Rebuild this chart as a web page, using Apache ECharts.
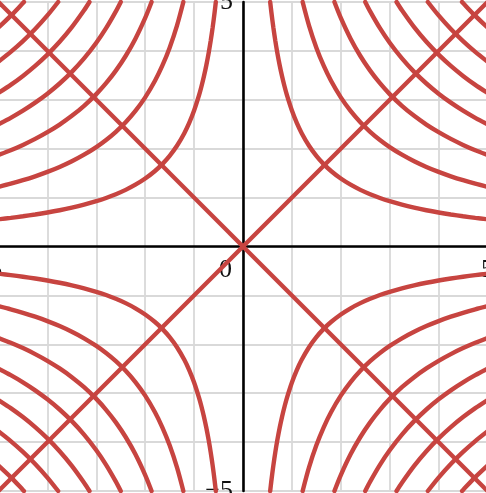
<!DOCTYPE html>
<html><head><meta charset="utf-8">
<script src="https://cdn.jsdelivr.net/npm/echarts@6/dist/echarts.min.js"></script>
<style>html,body{margin:0;padding:0;background:#fff;overflow:hidden}#c{width:486px;height:493px}</style>
</head><body><div id="c"></div><script>
const levels = [2.78, 6.1, 9.35, 12.5, 15.7, 18.9, 22.4];
// x positions at which each hyperbola is traced (first quadrant, mirrored to the others)
const xSamples = [0.58, 0.62, 0.66, 0.7, 0.75, 0.8, 0.85, 0.9, 1, 1.1, 1.2, 1.35, 1.5, 1.65, 1.8, 2, 2.2, 2.4, 2.6, 2.8, 3, 3.25, 3.5, 3.75, 4, 4.25, 4.5, 4.75, 5];
// quadrant signs
const quadrantSigns = [[1, 1], [-1, 1], [-1, -1], [1, -1]];
// the two diagonal lines y = x and y = -x
const diagonalA = [[-5, -5], [5, 5]];
const diagonalB = [[-5, 5], [5, -5]];
// axis range and labelled ticks
const axisMin = -5, axisMax = 5, axisStep = 1;
const xTickLabels = { '-5': '{l|−5}', '0': '{z|0}', '5': '5' };
const yTickLabels = { '-5': '−5', '5': '5' };

const RED = '#c74440';
const FONT = 'Liberation Serif';
const series = [];
function lineSeries(data) {
  return {
    type: 'line', data: data, xAxisIndex: 0, yAxisIndex: 0,
    showSymbol: false, symbol: 'none', smooth: 0.3,
    clip: true, silent: true,
    lineStyle: { color: RED, width: 4.4, cap: 'round' }
  };
}
quadrantSigns.forEach(function (s) {
  levels.forEach(function (c) {
    const x0 = c / axisMax;
    const pts = [[s[0] * x0, s[1] * axisMax]];
    xSamples.forEach(function (x) {
      if (x > x0 + 0.02) pts.push([s[0] * x, s[1] * c / x]);
    });
    series.push(lineSeries(pts));
  });
});
series.push(Object.assign(lineSeries(diagonalA), { smooth: false }));
series.push(Object.assign(lineSeries(diagonalB), { smooth: false }));

// plot box geometry (pixels)
const L = -1.5, T = 2, W = 489, H = 489;
const hidden = { show: false };
function rangeAxis(extra) {
  return Object.assign({
    type: 'value', min: axisMin, max: axisMax, interval: axisStep,
    axisLine: hidden, axisTick: hidden, splitLine: hidden, axisLabel: hidden
  }, extra);
}
const labelStyle = { fontSize: 26, fontFamily: FONT, color: '#111' };

const chart = echarts.init(document.getElementById('c'), null, { renderer: 'canvas' });
chart.setOption({
  animation: false,
  backgroundColor: '#fff',
  grid: [
    { left: L, top: T, width: W, height: H, show: true, borderColor: '#9a9a9a', borderWidth: 2, outerBoundsMode: 'none' },
    // label carrier for x-axis: bottom edge lies on y = 0
    { left: L, top: T, width: W, height: H / 2, outerBoundsMode: 'none' },
    // label carrier for y-axis: left edge lies on x = 0
    { left: L + W / 2, top: T, width: W / 2, height: H, outerBoundsMode: 'none' }
  ],
  xAxis: [
    rangeAxis({
      gridIndex: 0,
      axisLine: { show: true, onZero: true, lineStyle: { color: '#000', width: 2.6 } },
      splitLine: { show: true, lineStyle: { color: '#d9d9d9', width: 1.8 } }
    }),
    rangeAxis({
      gridIndex: 1, position: 'bottom',
      axisLabel: Object.assign({
        show: true, interval: 0, margin: 11, hideOverlap: false,
        showMinLabel: true, showMaxLabel: true,
        formatter: function (v) { return xTickLabels[String(Math.round(v))] || ''; },
        rich: {
          z: Object.assign({ padding: [0, 35, 0, 0] }, labelStyle),
          l: Object.assign({ padding: [0, 20, 0, 0] }, labelStyle)
        }
      }, labelStyle)
    }),
    rangeAxis({ gridIndex: 2, min: 0 })
  ],
  yAxis: [
    rangeAxis({
      gridIndex: 0,
      axisLine: { show: true, onZero: true, lineStyle: { color: '#000', width: 2.6 } },
      splitLine: { show: true, lineStyle: { color: '#d9d9d9', width: 1.8 } }
    }),
    rangeAxis({ gridIndex: 1, min: 0 }),
    rangeAxis({
      gridIndex: 2, position: 'left',
      axisLabel: Object.assign({
        show: true, interval: 0, margin: 10, hideOverlap: false,
        showMinLabel: true, showMaxLabel: true,
        formatter: function (v) { return yTickLabels[String(Math.round(v))] || ''; }
      }, labelStyle)
    })
  ],
  series: series
});
</script></body></html>
